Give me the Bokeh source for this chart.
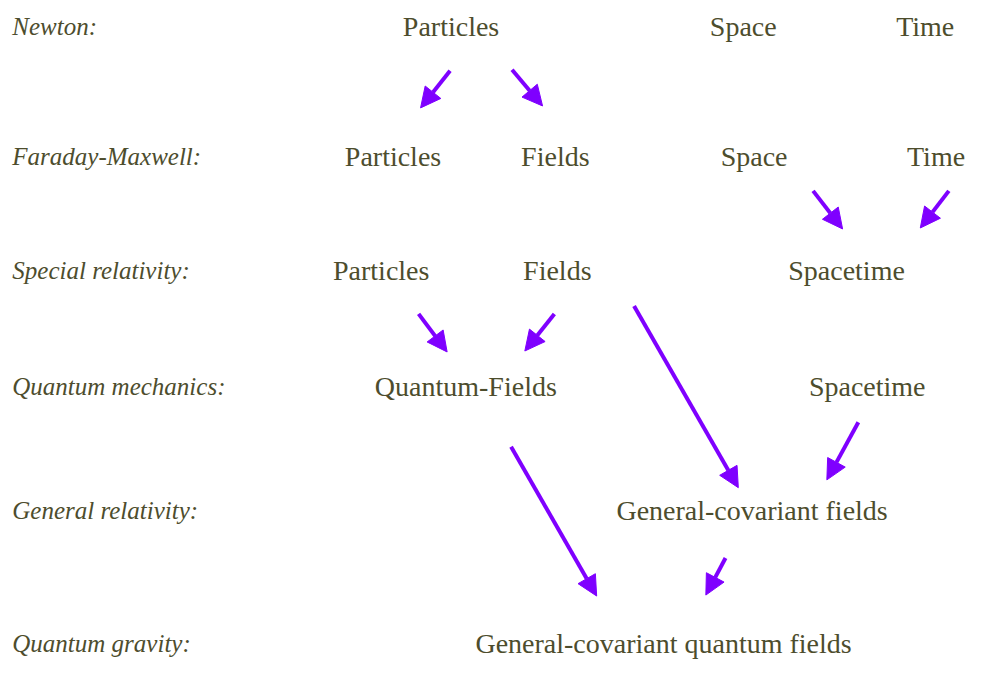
from bokeh.plotting import figure
from bokeh.models import ColumnDataSource, Arrow, NormalHead, Range1d
from bokeh.core.properties import value
from bokeh.embed import file_html
from bokeh.resources import INLINE

# Row labels (theories) and their vertical positions
row_labels = ["Newton:", "Faraday-Maxwell:", "Special relativity:",
              "Quantum mechanics:", "General relativity:", "Quantum gravity:"]
row_y = [27, 160, 277, 395, 522, 659]

# Concept nodes
node_text = ["Particles", "Space", "Time",
             "Particles", "Fields", "Space", "Time",
             "Particles", "Fields", "Spacetime",
             "Quantum-Fields", "Spacetime",
             "General-covariant fields",
             "General-covariant quantum fields"]
node_x = [458, 755, 940,
          399, 564, 766, 951,
          387, 566, 860,
          473, 881,
          764,
          674]
node_y = [27, 27, 27,
          160, 160, 160, 160,
          277, 277, 277,
          395, 395,
          522,
          659]

# Arrows (start -> tip)
arrow_x0 = [457, 520, 826, 964, 425, 563, 644, 872, 519, 737]
arrow_y0 = [72, 71, 195, 195, 321, 321, 313, 432, 457, 571]
arrow_x1 = [427, 551, 856, 935, 454, 533, 750, 840, 606, 717]
arrow_y1 = [110, 108, 234, 233, 360, 359, 499, 491, 610, 609]

TEXT_COLOR = "#4d4d2d"
ARROW_COLOR = "#7f00ff"
FONT = "Liberation Serif"

W, H = 969, 659
p = figure(width=W, height=H, output_backend="svg", toolbar_location=None,
           x_range=Range1d(0, 985), y_range=Range1d(675, 0),
           min_border=0, outline_line_color=None)
p.axis.visible = False
p.grid.visible = False
p.background_fill_color = "white"
p.border_fill_color = "white"

row_src = ColumnDataSource(dict(x=[12] * len(row_labels), y=row_y, t=row_labels))
p.text("x", "y", text="t", source=row_src, text_font=value(FONT),
       text_font_style="italic", text_font_size="25px", text_color=TEXT_COLOR,
       text_align="left", text_baseline="middle")

node_src = ColumnDataSource(dict(x=node_x, y=node_y, t=node_text))
p.text("x", "y", text="t", source=node_src, text_font=value(FONT),
       text_font_size="28px", text_color=TEXT_COLOR,
       text_align="center", text_baseline="middle")

arr_src = ColumnDataSource(dict(x0=arrow_x0, y0=arrow_y0, x1=arrow_x1, y1=arrow_y1))
p.add_layout(Arrow(x_start="x0", y_start="y0", x_end="x1", y_end="y1",
                   source=arr_src, line_color=ARROW_COLOR, line_width=4,
                   end=NormalHead(size=20, fill_color=ARROW_COLOR,
                                  line_color=ARROW_COLOR, line_width=1)))

open("out.html", "w").write(file_html(p, INLINE))
